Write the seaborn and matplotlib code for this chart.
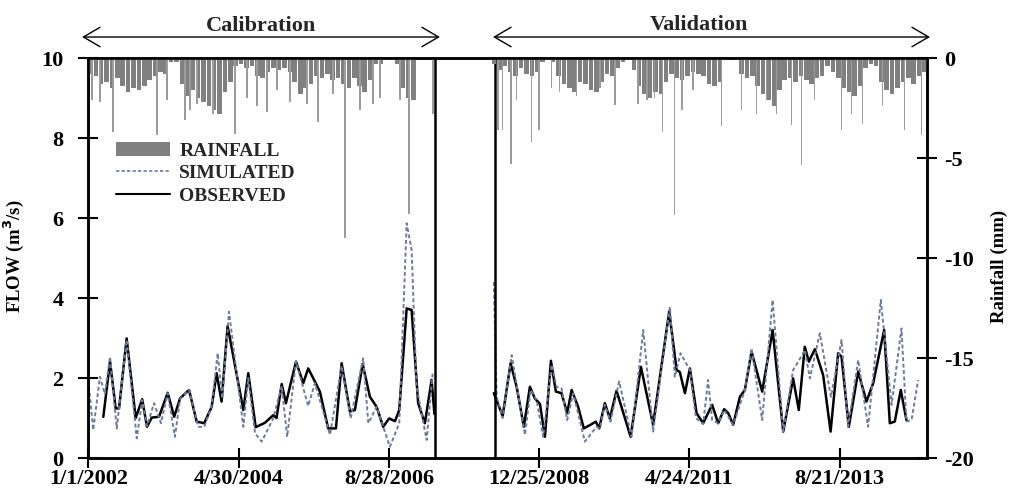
import numpy as np
import pandas as pd
import matplotlib
matplotlib.use("Agg")
import matplotlib.pyplot as plt
import seaborn as sns
from matplotlib.patches import Patch, FancyArrowPatch
from matplotlib.lines import Line2D
from matplotlib.ticker import FuncFormatter

START = pd.Timestamp("2002-01-01")

# ---- Flow data (day offset from 1/1/2002, m3/s) ----
obs_cal_day = [85, 123, 155, 174, 217, 268, 305, 332, 359, 400, 449, 486, 519, 570, 613, 656,
               698, 726, 754, 788, 877, 905, 947, 999, 1046, 1065, 1094, 1118, 1175, 1216,
               1244, 1282, 1310, 1357, 1401, 1433, 1480, 1508, 1552, 1593, 1631, 1668, 1702,
               1735, 1759, 1801, 1829, 1866, 1904, 1942, 1958]
obs_cal = [1.03, 2.41, 1.24, 1.24, 2.99, 1.00, 1.47, 0.78, 1.01, 1.03, 1.63, 1.03, 1.49, 1.70,
           0.91, 0.87, 1.28, 2.12, 1.41, 3.30, 1.20, 2.12, 0.77, 0.88, 1.07, 1.00, 1.85, 1.37,
           2.41, 1.87, 2.24, 1.91, 1.66, 0.74, 0.74, 2.37, 1.16, 1.20, 2.35, 1.53, 1.28, 0.78,
           0.99, 0.92, 1.20, 3.74, 3.70, 1.37, 0.87, 1.95, 1.10]

sim_cal_day = [0, 28, 66, 94, 123, 161, 217, 274, 305, 332, 372, 411, 449, 490, 519, 570, 622,
               656, 698, 732, 758, 796, 877, 905, 943, 981, 1046, 1094, 1125, 1175, 1216, 1244,
               1282, 1367, 1433, 1484, 1555, 1584, 1631, 1706, 1759, 1801, 1829, 1857, 1914, 1948]
sim_cal = [1.95, 0.70, 2.03, 1.60, 2.53, 0.74, 2.95, 0.49, 1.45, 0.80, 1.37, 0.87, 1.62, 0.53,
           1.47, 1.70, 0.78, 0.78, 1.30, 2.62, 1.49, 3.66, 0.78, 2.00, 0.62, 0.41, 0.99, 1.80,
           0.53, 2.42, 1.75, 1.30, 1.87, 0.58, 2.30, 0.99, 2.49, 0.87, 1.28, 0.28, 0.87, 5.87,
           5.20, 1.78, 0.45, 2.12]

obs_val_day = [2294, 2344, 2389, 2423, 2464, 2498, 2526, 2555, 2583, 2617, 2645, 2677, 2709,
               2734, 2771, 2803, 2837, 2871, 2890, 2922, 2950, 2988, 3068, 3126, 3195, 3286,
               3328, 3346, 3375, 3403, 3441, 3478, 3529, 3563, 3597, 3620, 3648, 3686, 3714,
               3752, 3812, 3871, 3931, 3987, 4019, 4053, 4076, 4110, 4157, 4199, 4242, 4261,
               4302, 4355, 4402, 4440, 4502, 4534, 4562, 4596, 4628]
obs_val = [1.62, 1.05, 2.37, 1.78, 0.78, 1.78, 1.49, 1.35, 0.53, 2.43, 1.66, 1.62, 1.12, 1.70,
           1.28, 0.74, 0.82, 0.91, 0.74, 1.37, 0.99, 1.68, 0.53, 2.28, 0.83, 3.66, 2.20, 2.15,
           1.62, 2.24, 1.12, 0.87, 1.33, 0.87, 1.22, 1.12, 0.83, 1.53, 1.70, 2.66, 1.66, 3.20,
           0.66, 1.99, 1.20, 2.78, 2.41, 2.72, 2.07, 0.66, 2.62, 2.53, 0.78, 2.16, 1.41, 1.87,
           3.20, 0.87, 0.91, 1.70, 0.95]

sim_val_day = [2294, 2310, 2344, 2395, 2470, 2502, 2536, 2573, 2621, 2649, 2677, 2709, 2743,
               2809, 2875, 2894, 2922, 2954, 3003, 3073, 3139, 3195, 3290, 3318, 3350, 3403,
               3437, 3478, 3506, 3529, 3563, 3597, 3648, 3714, 3752, 3812, 3871, 3931, 3987,
               4019, 4053, 4082, 4138, 4201, 4261, 4298, 4355, 4411, 4483, 4544, 4600, 4628,
               4657, 4694]
sim_val = [4.40, 1.53, 1.00, 2.57, 0.58, 1.70, 1.45, 0.53, 2.33, 1.78, 1.74, 0.95, 1.62, 0.41,
           0.78, 0.74, 1.33, 0.91, 1.91, 0.53, 3.20, 0.66, 3.78, 2.03, 2.62, 2.20, 1.00, 0.85,
           1.95, 0.95, 0.87, 1.20, 0.83, 1.70, 2.74, 0.95, 3.95, 0.66, 2.20, 2.43, 2.70, 1.99,
           3.12, 1.53, 2.95, 0.78, 2.45, 0.78, 3.95, 1.33, 3.24, 0.91, 0.95, 1.95]

# ---- Rainfall (mm): monthly band + individual daily spikes ----
rain_cal_start = "2002-01-01"
rain_cal = [0.8, 0.9, 1.3, 1.2, 1.5, 1.0, 1.4, 1.7, 1.5, 1.6, 1.4, 1.1, 0.9, 0.7, 0.8, 0.2,
            0.2, 1.3, 1.9, 1.6, 2.0, 2.2, 2.4, 2.6, 2.8, 1.7, 1.2, 0.4, 0.3, 0.5, 0.4, 0.9,
            1.0, 0.7, 0.5, 0.6, 0.5, 0.7, 1.2, 1.8, 1.5, 1.3, 0.9, 1.0, 0.8, 1.1, 1.0, 1.3,
            1.5, 1.0, 1.4, 1.7, 1.1, 0.3, 0.3, 0.1, 0.1, 0.3, 1.5, 2.0, 2.1, 0.0, 0.0, 0.0, 0.0]
rain_val_start = "2008-04-01"
rain_val = [0.3, 0.6, 0.4, 0.7, 0.9, 0.5, 0.8, 0.9, 0.7, 0.2, 0.1, 0.2, 0.9, 1.3, 1.5, 1.7,
            1.2, 1.3, 1.6, 1.7, 1.2, 0.8, 0.9, 0.5, 0.2, 0.1, 0.6, 1.4, 1.8, 2.0, 1.7, 1.8,
            1.2, 0.8, 1.0, 1.1, 0.9, 0.7, 0.8, 0.9, 1.3, 1.4, 1.2, 0.1, 0.05, 0.1, 0.8, 1.0,
            0.9, 1.4, 1.8, 2.1, 2.4, 1.6, 1.1, 1.0, 1.2, 0.9, 1.1, 1.3, 1.0, 0.9, 0.4, 0.7,
            1.0, 1.5, 1.7, 1.9, 1.4, 0.5, 0.3, 0.4, 1.2, 1.6, 1.8, 1.5, 1.2, 1.0, 1.3, 0.9, 0.7]
spike_day = [21, 66, 140, 389, 445, 547, 575, 615, 705, 830, 898, 954, 1011, 1067, 1141, 1237,
             1299, 1384, 1452, 1537, 1610, 1650, 1763, 1814, 1950,
             2317, 2345, 2391, 2424, 2509, 2549, 2622, 2667, 2763, 2894, 2979, 3109, 3160,
             3205, 3250, 3318, 3358, 3420, 3584, 3697, 3781, 3838, 3895, 3980, 4036, 4110,
             4262, 4319, 4381, 4494, 4619, 4715]
spike_mm = [2.1, 2.2, 3.7, 3.85, 2.1, 3.1, 2.6, 2.3, 2.8, 3.8, 2.0, 2.4, 2.7, 1.6, 2.2, 2.3,
            3.2, 1.8, 9.0, 2.6, 2.3, 2.0, 2.1, 7.8, 2.8,
            3.6, 3.6, 5.3, 2.1, 4.2, 3.6, 1.5, 1.7, 1.9, 1.5, 2.35, 2.3, 2.1, 2.0, 3.7, 7.85,
            2.6, 1.6, 3.4, 2.6, 2.8, 2.1, 2.8, 3.35, 5.35, 2.1, 3.6, 2.8, 3.3, 2.4, 3.6, 3.85]

period_bounds = ["2007-05-16", "2008-04-18"]   # end of calibration, start of validation
x_range = ["2002-01-01", "2014-12-31"]
tick_dates = ["2002-01-01", "2004-04-30", "2006-08-28", "2008-12-25", "2011-04-24", "2013-08-21"]
flow_ticks = [0, 2, 4, 6, 8, 10]
rain_ticks = [0, -5, -10, -15, -20]


def to_dates(days):
    return START + pd.to_timedelta(np.asarray(days), unit="D")


sns.set_theme(style="white")
plt.rcParams["font.family"] = ["Liberation Serif", "DejaVu Serif"]
plt.rcParams["font.weight"] = "bold"
plt.rcParams["axes.labelweight"] = "bold"
plt.rcParams["axes.unicode_minus"] = False

fig = plt.figure(figsize=(10.09, 5.0), dpi=100)
ax = fig.add_axes([0.0875, 0.084, 0.8317, 0.8])
ax2 = ax.twinx()

OBS_C = "black"
SIM_C = "#6d7b9c"
BAND_C = "#808080"
SPIKE_C = "#9c9c9c"

for d, v in [(obs_cal_day, obs_cal), (obs_val_day, obs_val)]:
    sns.lineplot(x=to_dates(d), y=v, ax=ax, color=OBS_C, lw=1.8, sort=False,
                 estimator=None, legend=False)
for d, v in [(sim_cal_day, sim_cal), (sim_val_day, sim_val)]:
    sns.lineplot(x=to_dates(d), y=v, ax=ax, color=SIM_C, lw=1.4, sort=False,
                 estimator=None, legend=False, linestyle=(0, (2.0, 1.3)))

for b in period_bounds:
    ax.axvline(pd.Timestamp(b), color="black", lw=1.8)

months_cal = pd.date_range(rain_cal_start, periods=len(rain_cal), freq="MS")
months_val = pd.date_range(rain_val_start, periods=len(rain_val), freq="MS")
ax2.bar(months_cal, -np.array(rain_cal), width=26, align="edge", color=BAND_C, lw=0)
ax2.bar(months_val, -np.array(rain_val), width=26, align="edge", color=BAND_C, lw=0)
ax2.bar(to_dates(spike_day), -np.array(spike_mm), width=7, color=SPIKE_C, lw=0)

ax.set_xlim(pd.Timestamp(x_range[0]), pd.Timestamp(x_range[1]))
ax.set_ylim(0, 10)
ax2.set_ylim(-20, 0)
ax.set_yticks(flow_ticks)
ax2.set_yticks(rain_ticks)
ax.set_xticks([pd.Timestamp(t) for t in tick_dates])
ax.xaxis.set_major_formatter(FuncFormatter(
    lambda v, p: "{d.month}/{d.day}/{d.year}".format(d=matplotlib.dates.num2date(v))))

for a in (ax, ax2):
    for s in a.spines.values():
        s.set_color("black")
        s.set_linewidth(1.8)
ax.tick_params(axis="y", direction="inout", length=14, width=1.5, labelsize=16, pad=11,
               left=True, colors="black")
ax.tick_params(axis="x", direction="inout", length=14, width=1.5, labelsize=16, pad=1,
               bottom=True, colors="black")
ax2.tick_params(axis="y", direction="inout", length=14, width=1.5, labelsize=16, pad=5,
                right=True, colors="black")
for lab in ax.get_xticklabels() + ax.get_yticklabels() + ax2.get_yticklabels():
    lab.set_fontweight("bold")

ax.set_ylabel("FLOW (m$^\\mathbf{3}$/s)", fontsize=13.5, fontweight="bold", color="black")
ax.yaxis.set_label_coords(-0.074, 0.505)
ax2.set_ylabel("Rainfall (mm)", fontsize=13.5, fontweight="bold", color="black")
ax2.yaxis.set_label_coords(1.075, 0.478)
ax.set_xlabel("")

handles = [Patch(facecolor=BAND_C, edgecolor="none"),
           Line2D([], [], color=SIM_C, lw=1.2, linestyle=(0, (2.0, 1.3))),
           Line2D([], [], color=OBS_C, lw=1.5)]
ax2.legend(handles, ["RAINFALL", "SIMULATED", "OBSERVED"], loc="upper left",
           bbox_to_anchor=(0.033, 0.79), frameon=False, prop={"size": 14, "weight": "bold"},
           handlelength=2.8, handletextpad=0.45, labelspacing=0.25, borderpad=0,
           borderaxespad=0)

arrow_kw = dict(arrowstyle="<->,head_length=0.6,head_width=0.35", lw=1.0, color="black",
                mutation_scale=20, shrinkA=0, shrinkB=0)
fig.add_artist(FancyArrowPatch((0.0813, 0.926), (0.436, 0.926),
                               transform=fig.transFigure, **arrow_kw))
fig.add_artist(FancyArrowPatch((0.4886, 0.926), (0.9217, 0.926),
                               transform=fig.transFigure, **arrow_kw))
fig.text(0.2587, 0.948, "Calibration", ha="center", va="center", fontsize=16,
         fontweight="bold")
fig.text(0.6928, 0.951, "Validation", ha="center", va="center", fontsize=16,
         fontweight="bold")

fig.savefig("out.png", dpi=100)
